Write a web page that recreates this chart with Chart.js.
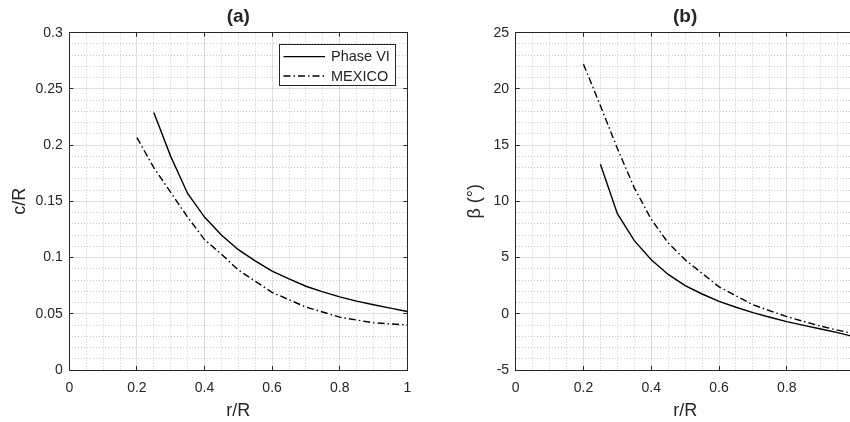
<!DOCTYPE html>
<html><head><meta charset="utf-8">
<script src="https://cdn.jsdelivr.net/npm/chart.js@4/dist/chart.umd.min.js"></script>
<style>
html,body{margin:0;padding:0;background:#fff;overflow:hidden;width:850px;height:422px;}
#wa{position:absolute;left:0;top:0;width:425px;height:422px;}
#wb{position:absolute;left:425px;top:0;width:432px;height:422px;}
</style></head><body>
<div id="wa"><canvas id="ca" width="425" height="422"></canvas></div>
<div id="wb"><canvas id="cb" width="432" height="422"></canvas></div>
<script>
// ---- data ----
const seriesNames = ['Phase VI', 'MEXICO'];
const rPhaseVI      = [0.25, 0.30, 0.35, 0.40, 0.45, 0.50, 0.55, 0.60, 0.65, 0.70, 0.75, 0.80, 0.85, 0.90, 0.95, 1.00];
const chordPhaseVI  = [0.229, 0.190, 0.157, 0.136, 0.120, 0.107, 0.097, 0.088, 0.081, 0.0745, 0.0695, 0.0650, 0.0612, 0.0580, 0.0550, 0.052];
const twistPhaseVI  = [13.3, 8.9, 6.5, 4.8, 3.5, 2.5, 1.76, 1.1, 0.58, 0.1, -0.31, -0.7, -1.03, -1.35, -1.68, -2.05];
const rMexico       = [0.20, 0.25, 0.30, 0.35, 0.40, 0.45, 0.50, 0.60, 0.70, 0.80, 0.90, 1.00];
const chordMexico   = [0.2067, 0.180, 0.158, 0.136, 0.116, 0.103, 0.089, 0.069, 0.056, 0.047, 0.042, 0.040];
const twistMexico   = [22.2, 18.5, 14.7, 11.2, 8.4, 6.3, 4.8, 2.4, 0.8, -0.26, -1.1, -1.8];

const xTickValues = [0, 0.2, 0.4, 0.6, 0.8, 1];
const xTickLabels = ['0', '0.2', '0.4', '0.6', '0.8', '1'];
const cTickValues = [0, 0.05, 0.1, 0.15, 0.2, 0.25, 0.3];
const cTickLabels = ['0', '0.05', '0.1', '0.15', '0.2', '0.25', '0.3'];
const bTickValues = [-5, 0, 5, 10, 15, 20, 25];
const bTickLabels = ['-5', '0', '5', '10', '15', '20', '25'];
const titles = ['(a)', '(b)'];
const xTitle = 'r/R';
const cTitle = 'c/R';
const bTitle = 'β (°)';

// ---- styling ----
const axisColor = '#262626';
const majorColor = 'rgba(38,38,38,0.15)';
const minorColor = 'rgba(38,38,38,0.24)';
const FONT = '"Liberation Sans", Arial, Helvetica, sans-serif';
Chart.defaults.font.family = FONT;
Chart.defaults.color = axisColor;

const pts = (xs, ys) => xs.map((x, i) => ({x: x, y: ys[i]}));
const isMajorOf = list => v => list.some(m => Math.abs(m - v) < 1e-9);

function buildScales(c) {
  const xMaj = isMajorOf(xTickValues), yMaj = isMajorOf(c.yTicks);
  const setX = s => { s.ticks = xTickValues.map(v => ({value: v})); };
  const setY = s => { s.ticks = c.yTicks.map(v => ({value: v})); };
  return {
    xm: { type: 'linear', position: 'bottom', min: 0, max: 1,
      afterFit: s => { s.height = 0; s.paddingLeft = 0; s.paddingRight = 0; },
      ticks: { display: false, stepSize: 0.05, maxTicksLimit: 200 },
      grid: { drawTicks: false, lineWidth: 1,
        color: ctx => (ctx.tick && xMaj(ctx.tick.value)) ? 'rgba(0,0,0,0)' : minorColor },
      border: { display: false, dash: [1, 2] } },
    ym: { type: 'linear', position: 'left', min: c.yMin, max: c.yMax,
      afterFit: s => { s.width = 0; s.paddingTop = 0; s.paddingBottom = 0; },
      ticks: { display: false, stepSize: c.yMinorStep, maxTicksLimit: 200 },
      grid: { drawTicks: false, lineWidth: 1,
        color: ctx => (ctx.tick && yMaj(ctx.tick.value)) ? 'rgba(0,0,0,0)' : minorColor },
      border: { display: false, dash: [1, 2] } },
    x: { type: 'linear', position: 'bottom', min: 0, max: 1,
      afterBuildTicks: setX,
      afterFit: s => { s.height = 52; s.paddingLeft = 0; s.paddingRight = 0; },
      ticks: { callback: (v, i) => xTickLabels[i], color: axisColor, font: {size: 14}, padding: 13.6,
               maxRotation: 0, autoSkip: false },
      grid: { color: majorColor, lineWidth: 1, drawTicks: true, tickLength: -4, tickColor: axisColor, tickWidth: 1 },
      border: { display: true, color: axisColor, width: 1 },
      title: { display: true, text: xTitle, color: axisColor, font: {size: 18}, padding: {top: 0, bottom: 0.5} } },
    y: { type: 'linear', position: 'left', min: c.yMin, max: c.yMax,
      afterBuildTicks: setY,
      afterFit: s => { s.width = c.yWidth; s.paddingTop = 0; s.paddingBottom = 0; },
      ticks: { callback: (v, i) => c.yLabels[i], color: axisColor, font: {size: 14}, padding: 10.6, autoSkip: false },
      grid: { color: majorColor, lineWidth: 1, drawTicks: true, tickLength: -4, tickColor: axisColor, tickWidth: 1 },
      border: { display: true, color: axisColor, width: 1 },
      title: { display: true, text: c.yTitle, color: axisColor, font: {size: 18}, padding: {top: c.yTitlePad, bottom: 0} } },
    xt: { type: 'linear', position: 'top', min: 0, max: 1,
      afterBuildTicks: setX,
      afterFit: s => { s.height = 0; s.paddingLeft = 0; s.paddingRight = 0; },
      ticks: { display: false },
      grid: { drawOnChartArea: false, drawTicks: true, tickLength: -4, tickColor: axisColor, tickWidth: 1 },
      border: { display: true, color: axisColor, width: 1 } },
    yr: { type: 'linear', position: 'right', min: c.yMin, max: c.yMax,
      afterBuildTicks: setY,
      afterFit: s => { s.width = 0; s.paddingTop = 0; s.paddingBottom = 0; },
      ticks: { display: false },
      grid: { drawOnChartArea: false, drawTicks: true, tickLength: -4, tickColor: axisColor, tickWidth: 1 },
      border: { display: true, color: axisColor, width: 1 } }
  };
}

const boxLegend = {
  id: 'boxLegend',
  afterDraw(chart) {
    const o = chart.options.plugins.boxLegend;
    if (!o || !o.show) return;
    const ctx = chart.ctx, ca = chart.chartArea;
    const w = 117, h = 42;
    const x0 = Math.round(ca.right - 11.6 - w), y0 = Math.round(ca.top + 11.6);
    ctx.save();
    ctx.fillStyle = '#fff';
    ctx.fillRect(x0, y0, w, h);
    ctx.strokeStyle = axisColor; ctx.lineWidth = 1; ctx.setLineDash([]);
    ctx.strokeRect(x0 + 0.5, y0 + 0.5, w - 1, h - 1);
    chart.data.datasets.forEach((ds, i) => {
      const yy = y0 + 12.6 + i * 19.4;
      ctx.beginPath();
      ctx.setLineDash(ds.borderDash || []);
      ctx.lineWidth = ds.borderWidth; ctx.strokeStyle = ds.borderColor;
      ctx.moveTo(x0 + 4.5, yy); ctx.lineTo(x0 + 46, yy); ctx.stroke();
      ctx.setLineDash([]);
      ctx.fillStyle = axisColor; ctx.font = '14.5px ' + FONT;
      ctx.textBaseline = 'middle'; ctx.textAlign = 'left';
      ctx.fillText(ds.label, x0 + 52, yy + 0.5);
    });
    ctx.restore();
  }
};

function makeChart(id, c) {
  return new Chart(document.getElementById(id), {
    type: 'scatter',
    data: { datasets: [
      { label: seriesNames[0], data: pts(rPhaseVI, c.phase), showLine: true, borderColor: '#000',
        borderWidth: 1.4, pointRadius: 0, tension: 0, borderDash: [] },
      { label: seriesNames[1], data: pts(rMexico, c.mex), showLine: true, borderColor: '#000',
        borderWidth: 1.4, pointRadius: 0, tension: 0, borderDash: [7, 3, 1.5, 3] }
    ]},
    options: {
      responsive: false, animation: false, devicePixelRatio: 1,
      layout: { padding: { left: 0, right: c.padRight, top: 0, bottom: 0 } },
      scales: buildScales(c),
      plugins: {
        legend: { display: false }, tooltip: { enabled: false },
        title: { display: true, text: c.title, color: axisColor, fullSize: false,
                 font: { size: 19, weight: 'bold' }, padding: { top: 5.3, bottom: 4.6 } },
        boxLegend: { show: c.legend }
      }
    },
    plugins: [boxLegend]
  });
}

makeChart('ca', { title: titles[0], phase: chordPhaseVI, mex: chordMexico, yTicks: cTickValues, yLabels: cTickLabels,
  yMin: 0, yMax: 0.3, yMinorStep: 0.01, yTitle: cTitle, yWidth: 69.3, yTitlePad: 9.2, padRight: 17.7, legend: true });
makeChart('cb', { title: titles[1], phase: twistPhaseVI, mex: twistMexico, yTicks: bTickValues, yLabels: bTickLabels,
  yMin: -5, yMax: 25, yMinorStep: 1, yTitle: bTitle, yWidth: 90.7, yTitlePad: 39.7, padRight: 2.4, legend: false });
</script>
</body></html>
